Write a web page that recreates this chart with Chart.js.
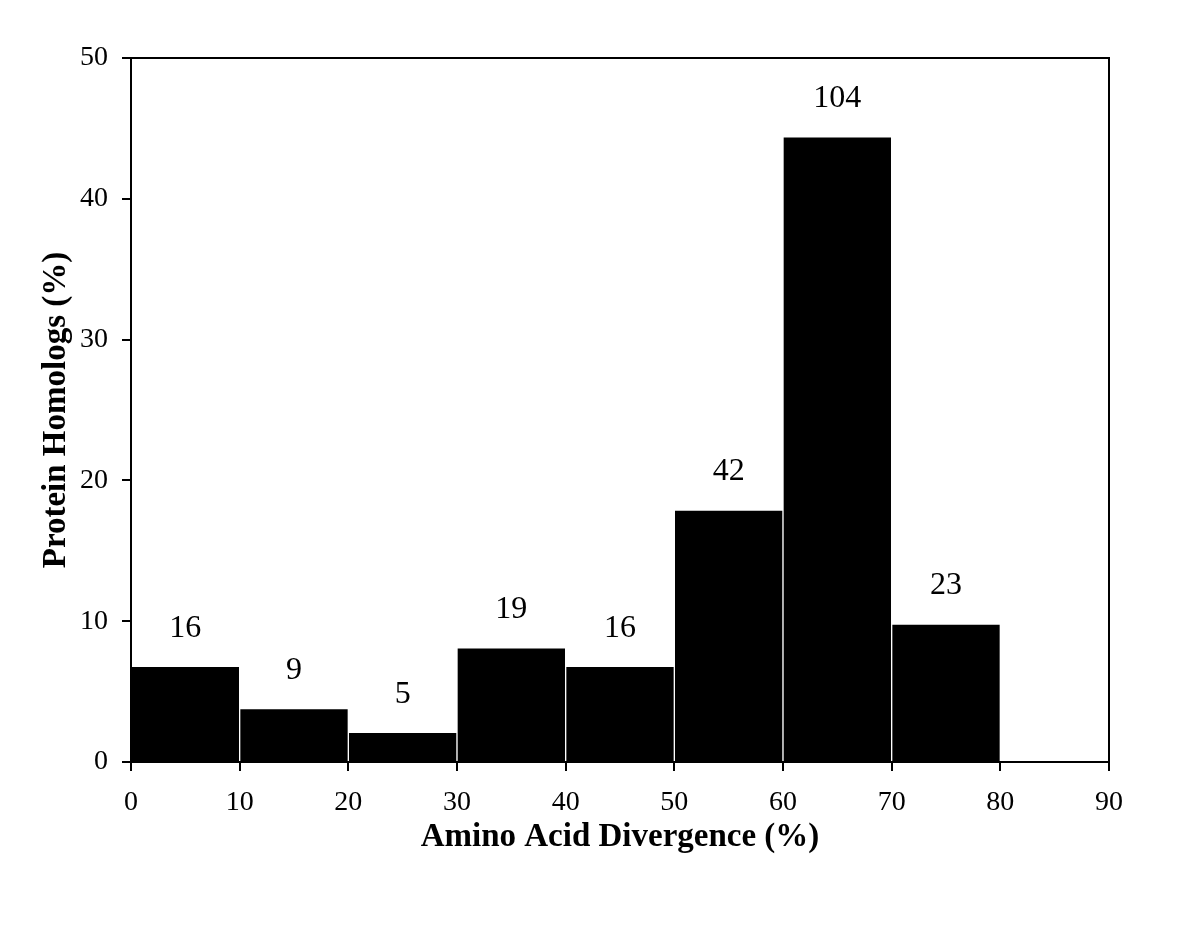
<!DOCTYPE html>
<html>
<head>
<meta charset="utf-8">
<script src="https://cdn.jsdelivr.net/npm/chart.js@4.4.1/dist/chart.umd.min.js"></script>
<style>
  html, body { margin: 0; padding: 0; background: #fff; }
  #wrap { width: 1200px; height: 936px; }
</style>
</head>
<body>
<div id="wrap"><canvas id="hist"></canvas></div>
<script>
// bin centres (amino acid divergence, %)
const binCentres = [5, 15, 25, 35, 45, 55, 65, 75];
// share of protein homologs per bin (%)
const homologPct = [6.8, 3.8, 2.1, 8.1, 6.8, 17.9, 44.4, 9.8];
// number of homologs printed over each bar
const homologCounts = [16, 9, 5, 19, 16, 42, 104, 23];
const xTicks = [0, 10, 20, 30, 40, 50, 60, 70, 80, 90];
const yTicks = [0, 10, 20, 30, 40, 50];

const serif = '"Liberation Serif", "Times New Roman", serif';

// count labels above bars
const countLabels = {
  id: 'countLabels',
  afterDatasetsDraw(chart) {
    const ctx = chart.ctx;
    const meta = chart.getDatasetMeta(0);
    ctx.save();
    ctx.font = '32px ' + serif;
    ctx.fillStyle = '#000';
    ctx.textAlign = 'center';
    ctx.textBaseline = 'middle';
    meta.data.forEach((bar, i) => {
      ctx.fillText(String(homologCounts[i]), bar.x, bar.y - 38);
    });
    ctx.restore();
  }
};

// box around plot area
const frame = {
  id: 'frame',
  afterDraw(chart) {
    const a = chart.chartArea;
    const ctx = chart.ctx;
    ctx.save();
    ctx.strokeStyle = '#000';
    ctx.lineWidth = 2;
    ctx.strokeRect(a.left, a.top, a.right - a.left, a.bottom - a.top);
    ctx.restore();
  }
};

new Chart(document.getElementById('hist'), {
  type: 'bar',
  data: {
    datasets: [{
      data: binCentres.map((x, i) => ({ x: x, y: homologPct[i] })),
      backgroundColor: '#000',
      borderColor: '#fff',
      borderWidth: 1,
      borderSkipped: 'start',
      barPercentage: 1,
      categoryPercentage: 1
    }]
  },
  options: {
    responsive: true,
    maintainAspectRatio: false,
    animation: false,
    layout: { padding: { top: 58, right: 91, left: 0, bottom: 0 } },
    plugins: { legend: { display: false }, tooltip: { enabled: false } },
    scales: {
      x: {
        type: 'linear',
        min: 0,
        max: 90,
        offset: false,
        afterFit: s => { s.height = 174; },
        afterBuildTicks: s => { s.ticks = xTicks.map(v => ({ value: v })); },
        grid: { offset: false, drawOnChartArea: false, drawTicks: true, tickLength: 9, color: '#000', lineWidth: 2 },
        border: { display: true, color: '#000', width: 2 },
        ticks: { color: '#000', font: { family: serif, size: 28 }, padding: 15, maxRotation: 0 },
        title: {
          display: true,
          text: 'Amino Acid Divergence (%)',
          color: '#000',
          font: { family: serif, size: 33, weight: 'bold' },
          padding: { top: 0, bottom: 79 }
        }
      },
      y: {
        min: 0,
        max: 50,
        afterFit: s => { s.width = 131; },
        afterBuildTicks: s => { s.ticks = yTicks.map(v => ({ value: v })); },
        grid: { drawOnChartArea: false, drawTicks: true, tickLength: 9, color: '#000', lineWidth: 2 },
        border: { display: true, color: '#000', width: 2 },
        ticks: { color: '#000', font: { family: serif, size: 28 }, padding: 14 },
        title: {
          display: true,
          text: 'Protein Homologs (%)',
          color: '#000',
          font: { family: serif, size: 33, weight: 'bold' },
          padding: { top: 37, bottom: 0 }
        }
      }
    }
  },
  plugins: [countLabels, frame]
});
</script>
</body>
</html>
